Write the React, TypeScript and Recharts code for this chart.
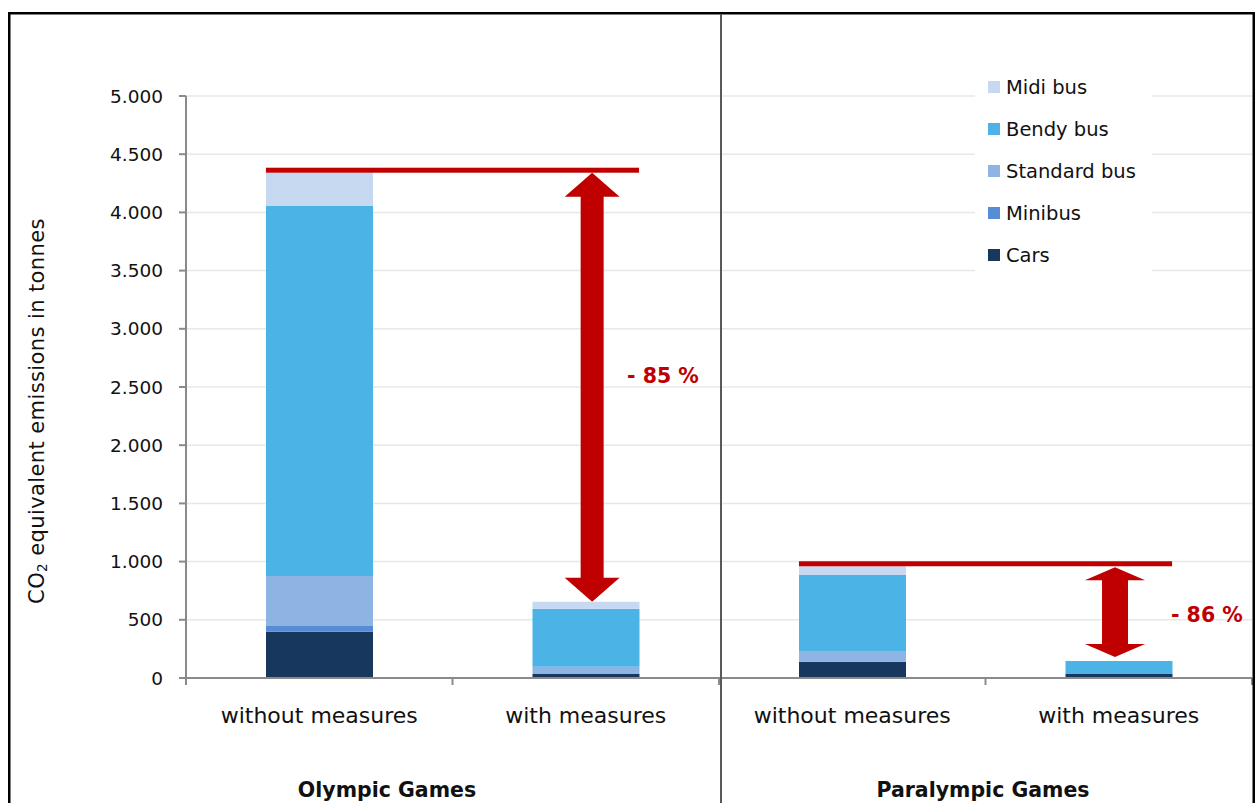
import React from "react";
import {
  ComposedChart,
  Bar,
  XAxis,
  YAxis,
  CartesianGrid,
  Legend,
  ReferenceArea,
  ReferenceLine,
  ReferenceDot,
} from "recharts";

// ---- data ----
const categories = ["without measures", "with measures", "without measures", "with measures"];
const groups = ["Olympic Games", "Paralympic Games"];
const cars = [398, 34, 140, 34];
const minibus = [49, 0, 0, 0];
const standardBus = [429, 63, 86, 0];
const bendyBus = [3179, 498, 659, 112];
const midiBus = [286, 61, 75, 0];
const reductions = ["- 85 %", "- 86 %"];
const yTicks = [0, 500, 1000, 1500, 2000, 2500, 3000, 3500, 4000, 4500, 5000];

const series = [
  { key: "cars", name: "Cars", color: "#17375E", values: cars },
  { key: "minibus", name: "Minibus", color: "#558ED5", values: minibus },
  { key: "standard", name: "Standard bus", color: "#8EB4E3", values: standardBus },
  { key: "bendy", name: "Bendy bus", color: "#4BB3E6", values: bendyBus },
  { key: "midi", name: "Midi bus", color: "#C6D9F1", values: midiBus },
];

// every category gets one unit on the x axis, bar sits in the middle of it
const rows = categories.map((label, i) => {
  const row: Record<string, any> = { pos: i + 0.5, label };
  series.forEach((s) => (row[s.key] = s.values[i]));
  return row;
});
const totals = rows.map((r) => series.reduce((sum, s) => sum + r[s.key], 0));

// ---- layout ----
const W = 1257;
const H = 803;
const FONT = "DejaVu Sans";
const RED = "#C00000";
const AXIS = "#8A8A8A";

// arrow / label anchors in x-axis units
const arrows = [
  { cx: 1.524, half: 0.103, head: 24, shaft: 23, gapTop: 0, gapBottom: 0 },
  { cx: 3.486, half: 0.113, head: 13, shaft: 26, gapTop: 1, gapBottom: 4 },
];
const labelAnchors = [
  { x: 1.655, y: 2594 },
  { x: 3.696, y: 541 },
];

const ArrowShape = (cfg: (typeof arrows)[number]) => (p: any) => {
  const { x, width } = p;
  const y = p.y + cfg.gapTop;
  const h = p.height - cfg.gapTop - cfg.gapBottom;
  const cx = x + width / 2;
  const s = cfg.shaft / 2;
  const pts = [
    [cx, y],
    [x + width, y + cfg.head],
    [cx + s, y + cfg.head],
    [cx + s, y + h - cfg.head],
    [x + width, y + h - cfg.head],
    [cx, y + h],
    [x, y + h - cfg.head],
    [cx - s, y + h - cfg.head],
    [cx - s, y + cfg.head],
    [x, y + cfg.head],
  ]
    .map((q) => q.join(","))
    .join(" ");
  return <polygon points={pts} fill={RED} />;
};

const TopLine = (p: any) => (
  <rect x={p.x1} y={p.y1 - 5} width={p.x2 - p.x1} height={5} fill={RED} />
);

// integer ticks = band borders (tick mark only), half ticks = category labels
const BandTick = (p: any) => {
  const { x, y, payload } = p;
  const v = payload.value;
  if (Number.isInteger(v)) {
    return <line x1={x} x2={x} y1={y} y2={y + 7} stroke={AXIS} strokeWidth={2} />;
  }
  return (
    <text x={x} y={y + 45} textAnchor="middle" fontFamily={FONT} fontSize={22} fill="#111">
      {categories[Math.floor(v)]}
    </text>
  );
};

const renderLegend = () => (
  <div>
    {[...series].reverse().map((s) => (
      <div
        key={s.key}
        style={{ height: 42, display: "flex", alignItems: "center", fontFamily: FONT, fontSize: 19.5, color: "#111" }}
      >
        <span style={{ width: 12, height: 12, background: s.color, marginLeft: 13, marginRight: 6, display: "inline-block" }} />
        {s.name}
      </div>
    ))}
  </div>
);

export default function App() {
  return (
    <div style={{ position: "relative", width: W, height: H, background: "#fff" }}>
      <style>{"body{margin:0}"}</style>
      <ComposedChart width={W} height={H} data={rows} margin={{ top: 96, right: 5, bottom: 0, left: 106 }}>
        <CartesianGrid vertical={false} stroke="#E8E8E8" strokeWidth={1.5} />
        <XAxis
          dataKey="pos"
          type="number"
          domain={[0, 4]}
          allowDataOverflow
          ticks={[0, 0.5, 1, 1.5, 2, 2.5, 3, 3.5, 4]}
          interval={0}
          height={125}
          tickSize={0}
          tickMargin={0}
          tickLine={false}
          axisLine={{ stroke: AXIS, strokeWidth: 2 }}
          tick={BandTick}
        />
        <YAxis
          width={80}
          domain={[0, 5000]}
          ticks={yTicks}
          interval={0}
          tickSize={7}
          tickMargin={16}
          axisLine={{ stroke: AXIS, strokeWidth: 2 }}
          tickLine={{ stroke: AXIS, strokeWidth: 2 }}
          tickFormatter={(v: number) => v.toLocaleString("de-DE")}
          tick={{ fontFamily: FONT, fontSize: 18.5, fill: "#111" }}
        />
        {series.map((s) => (
          <Bar
            key={s.key}
            dataKey={s.key}
            name={s.name}
            stackId="a"
            fill={s.color}
            barSize={107}
            isAnimationActive={false}
          />
        ))}
        {groups.map((g, gi) => (
          <ReferenceLine
            key={`line-${g}`}
            segment={[
              { x: gi * 2 + 0.3, y: totals[gi * 2] },
              { x: gi * 2 + 1.7, y: totals[gi * 2] },
            ]}
            stroke={RED}
            shape={TopLine}
            ifOverflow="visible"
          />
        ))}
        {groups.map((g, gi) => (
          <ReferenceArea
            key={`arrow-${g}`}
            x1={arrows[gi].cx - arrows[gi].half}
            x2={arrows[gi].cx + arrows[gi].half}
            y1={totals[gi * 2 + 1]}
            y2={totals[gi * 2]}
            shape={ArrowShape(arrows[gi])}
            ifOverflow="visible"
          />
        ))}
        {reductions.map((r, gi) => (
          <ReferenceDot
            key={`lbl-${gi}`}
            x={labelAnchors[gi].x}
            y={labelAnchors[gi].y}
            r={0}
            ifOverflow="visible"
            shape={(p: any) => (
              <text x={p.cx} y={p.cy + 7} fontFamily={FONT} fontSize={20.5} fontWeight="bold" fill={RED}>
                {r}
              </text>
            )}
          />
        ))}
        <Legend
          layout="vertical"
          align="center"
          verticalAlign="middle"
          content={renderLegend}
          wrapperStyle={{ position: "absolute", left: 975, top: 66, width: 177, height: 212, background: "#fff" }}
        />
      </ComposedChart>
      <svg width={W} height={H} style={{ position: "absolute", left: 0, top: 0, pointerEvents: "none" }}>
        <rect x={8} y={12} width={2.5} height={H - 12} fill="#000" />
        <rect x={8} y={12} width={1247} height={2.5} fill="#000" />
        <rect x={1252.5} y={12} width={2.5} height={H - 12} fill="#000" />
        <rect x={720} y={14} width={2} height={H - 14} fill="#595959" />
        <text
          transform="translate(37,411) rotate(-90)"
          textAnchor="middle"
          dominantBaseline="central"
          fontFamily={FONT}
          fontSize={21}
          letterSpacing={0.4}
          fill="#111"
        >
          CO<tspan fontSize={13.5} dy={5}>2</tspan>
          <tspan dy={-5}> equivalent emissions in tonnes</tspan>
        </text>
        {groups.map((g, gi) => (
          <text
            key={g}
            x={gi === 0 ? 387 : 983}
            y={797}
            textAnchor="middle"
            fontFamily={FONT}
            fontSize={20.5}
            fontWeight="bold"
            fill="#111"
          >
            {g}
          </text>
        ))}
      </svg>
    </div>
  );
}
